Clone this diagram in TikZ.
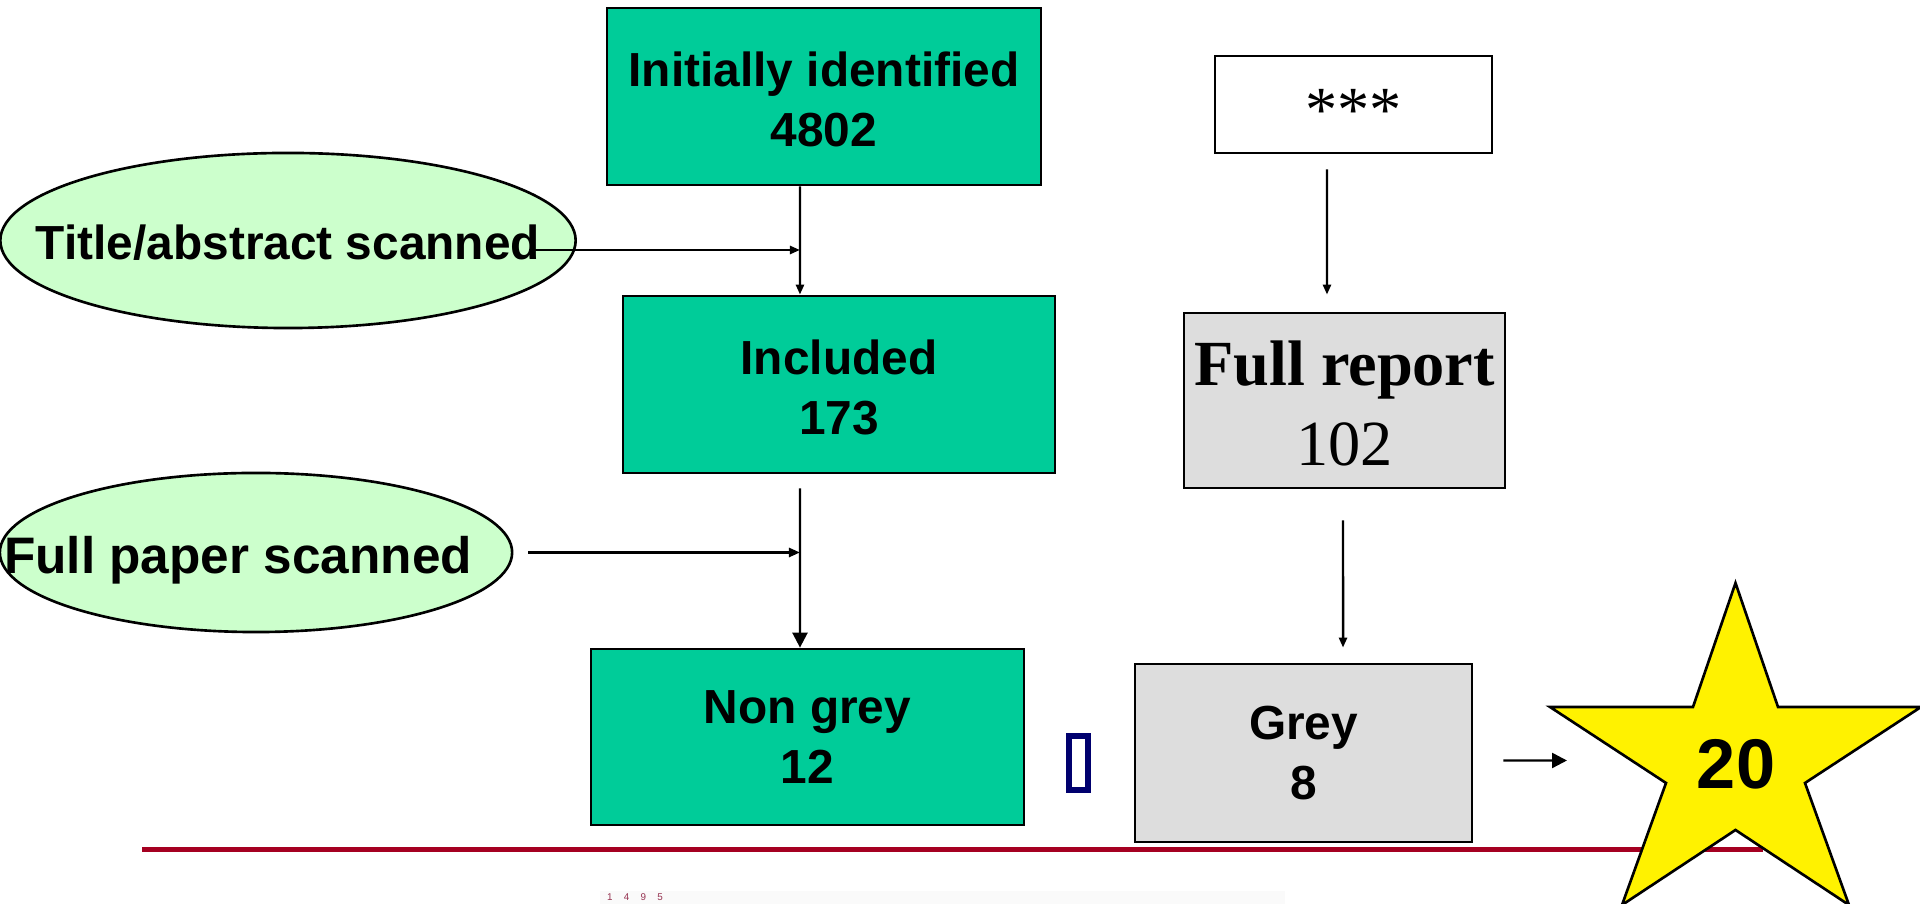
\documentclass[tikz,border=0pt]{standalone}
\usepackage{fontspec}
\setmainfont{Liberation Sans}
\newfontfamily\timesfont{Liberation Serif}
\usetikzlibrary{arrows.meta,shapes.geometric}
\definecolor{boxgreen}{RGB}{0,204,153}
\definecolor{ovalgreen}{RGB}{204,255,204}
\definecolor{boxgrey}{RGB}{221,221,221}
\definecolor{rulered}{RGB}{165,0,33}
\definecolor{glyphblue}{RGB}{0,0,110}
\definecolor{footmaroon}{RGB}{150,50,80}
\newcommand{\nudge}[2]{\raisebox{-#1}[\height][\depth]{#2}}

\begin{document}
\begin{tikzpicture}[x=0.01cm, y=-0.01cm,
  box/.style={draw=black, line width=0.75pt, align=center, inner sep=0pt, font=\fontsize{13.6}{17}\selectfont\bfseries},
  scanned/.style={box, ellipse, fill=ovalgreen},
  link/.style={black, line width=0.7pt, -{Triangle[length=0.1cm,width=0.08cm]}},
  bigtip/.style={-{Triangle[length=0.15cm,width=0.15cm]}}]
\useasboundingbox (0,0) rectangle (1920,904);

\node[box, fill=boxgreen, minimum width=4.34cm, minimum height=1.77cm] (initial) at (824,96.5) {\nudge{0.03cm}{Initially identified}\\\nudge{0.03cm}{4802}};
\node[box, fill=boxgreen, minimum width=4.32cm, minimum height=1.77cm] (included) at (839,384.5) {\nudge{0.03cm}{Included}\\\nudge{0.03cm}{173}};
\node[box, fill=boxgreen, minimum width=4.33cm, minimum height=1.76cm] (nongrey) at (807.5,737) {Non grey\\12};
\node[box, minimum width=2.77cm, minimum height=0.97cm, font=\timesfont\fontsize{18.3}{22}\selectfont] (stars) at (1353.5,104.5) {\nudge{0.062cm}{***}};
\node[box, fill=boxgrey, minimum width=3.21cm, minimum height=1.75cm, font=\timesfont\fontsize{18.3}{22.5}\selectfont] (fullreport) at (1344.5,400.5) {\nudge{0.03cm}{\bfseries Full report}\\\nudge{0.03cm}{102}};
\node[box, fill=boxgrey, minimum width=3.37cm, minimum height=1.78cm] (grey) at (1303.5,753) {Grey\\8};
\node[scanned, minimum width=5.75cm, minimum height=1.75cm] (titleabs) at (288,240.5) {\nudge{0.025cm}{\makebox[0pt]{Title/abstract scanned}}};
\node[scanned, minimum width=5.12cm, minimum height=1.59cm, font=\fontsize{14.6}{17}\selectfont\bfseries] (fullpaper) at (256,552.5) {\nudge{0.075cm}{\makebox[0pt]{\hspace*{-0.36cm}Full paper scanned}}};
\node[draw=glyphblue, line width=0.06cm, minimum width=0.19cm, minimum height=0.54cm, inner sep=0pt] (glyph) at (1078.5,763) {};

\fill[black!2] (600,891) rectangle (1285,904);
\node[text=footmaroon, font=\fontsize{2.8}{3}\selectfont, inner sep=0pt] (footer) at (635,897) {1\hspace{3.2pt}4\hspace{3.2pt}9\hspace{3.2pt}5};

\draw[rulered, line width=0.045cm] (142,849.5) -- (1763,849.5);
\draw[black, line width=0.75pt, fill=yellow] (1735.5,583) -- (1778,707) -- (1921,707) -- (1805,783) -- (1849,905) -- (1735.5,830) -- (1622,905) -- (1666,783) -- (1550,707) -- (1693,707) -- cycle;
\node[font=\fontsize{20}{24}\selectfont\bfseries] (twenty) at (1736,764) {20};
\coordinate (starin) at (1567,760.5);

\coordinate (trunk) at ([xshift=-0.24cm]initial.south);
\coordinate (tastart) at ([xshift=-0.475cm,yshift=-0.095cm]titleabs.east);
\coordinate (fpstart) at ([xshift=0.15cm]fullpaper.east);
\draw[link] (trunk) -- ([xshift=-0.39cm]included.north);
\draw[link] (tastart) -- (tastart -| trunk);
\draw[link, bigtip] ([xshift=-0.39cm,yshift=-0.14cm]included.south) -- ([xshift=-0.075cm]nongrey.north);
\draw[link, -{Triangle[length=0.11cm,width=0.09cm]}] (fpstart) -- (fpstart -| trunk);
\draw[link] ([xshift=-0.265cm,yshift=-0.15cm]stars.south) -- ([xshift=-0.175cm,yshift=0.17cm]fullreport.north);
\draw[link] ([xshift=-0.015cm,yshift=-0.31cm]fullreport.south) -- ([xshift=0.395cm,yshift=0.15cm]grey.north);
\draw[link, bigtip] ([xshift=0.3cm,yshift=-0.075cm]grey.east) -- (starin);
\end{tikzpicture}
\end{document}
